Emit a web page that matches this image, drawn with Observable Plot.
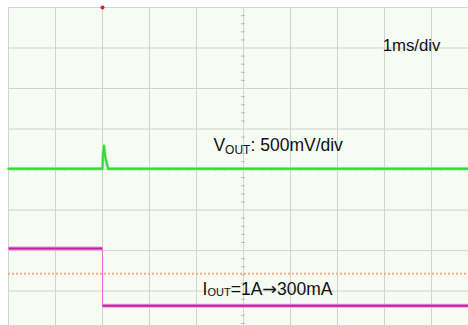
<!DOCTYPE html>
<html>
<head>
<meta charset="utf-8">
<script src="https://cdn.jsdelivr.net/npm/d3@7"></script>
<script src="https://cdn.jsdelivr.net/npm/@observablehq/plot@0.6"></script>
<style>
  html, body { margin: 0; padding: 0; background: #fff; overflow: hidden; }
  svg { display: block; }
</style>
</head>
<body>
<div id="chart"></div>
<script>
// ---- data (time in ms, 1 ms/div; amplitude in screen divisions, 0 = centre) ----
const gridT = [-2, -1, 0, 1, 2, 3, 4, 5, 6, 7, 8];
const gridV = [-3, -2, -1, 0, 1, 2, 3, 4];
const vOutTime  = [-2, 0, 0.01, 0.03, 0.06, 0.12, 7.8];
const vOutLevel = [0.02, 0.02, 0.35, 0.59, 0.3, 0.02, 0.02];
const iOutTime  = [-2, 0, 0, 7.8];
const iOutLevel = [-1.95, -1.95, -3.36, -3.36];
const refLevel  = [-2.57];
const triggerT  = [0];
const labelMain = ["1ms/div", "V", "I"];
const labelSub  = ["", "OUT", "OUT"];
const labelRest = ["", ": 500mV/div", "=1A\u2192300mA"];
const labelT    = [5.96, 2.36, 2.13];
const labelV    = [3.05, 0.60, -2.96];

const centreT = 3, centreV = 0;
const minorT = d3.range(-2, 8, 0.2).filter(t => Math.abs(t - Math.round(t)) > 0.01);
const minorV = d3.range(-4, 4, 0.2).filter(v => Math.abs(v - Math.round(v)) > 0.01);

const vOut = vOutTime.map((t, i) => ({t, v: vOutLevel[i]}));
const iSeg = d3.pairs(iOutTime.map((t, i) => ({t, v: iOutLevel[i]})))
  .map(([a, b]) => ({t1: a.t, v1: a.v, t2: b.t, v2: b.v, edge: a.t === b.t}));
const labels = labelMain.map((m, i) => ({m, s: labelSub[i], r: labelRest[i], t: labelT[i], v: labelV[i]}));

const chart = Plot.plot({
  width: 468,
  height: 325,
  marginLeft: 8, marginTop: 7, marginRight: 0, marginBottom: 0,
  x: {domain: [-2, 7.787], axis: null},
  y: {domain: [-3.85, 4], axis: null},
  style: {background: "#ffffff", fontFamily: "'Liberation Sans', Arial, sans-serif"},
  marks: [
    Plot.frame({fill: "#f6fbf4", stroke: null}),
    Plot.ruleX(gridT, {stroke: "#cfd4cf", strokeOpacity: 1}),
    Plot.ruleY(gridV, {stroke: "#cfd4cf", strokeOpacity: 1}),
    Plot.ruleX(minorT, {x: d => d, y1: centreV - 0.05, y2: centreV + 0.05, stroke: "#c0c4c0"}),
    Plot.ruleY(minorV, {y: d => d, x1: centreT - 0.04, x2: centreT + 0.04, stroke: "#b8bcb8"}),
    Plot.ruleY(refLevel, {stroke: "#f3ad90", strokeWidth: 2, strokeDasharray: "2,2"}),
    Plot.line(vOut, {x: "t", y: "v", stroke: "#a8eaa8", strokeWidth: 3.5, curve: "linear"}),
    Plot.line(vOut, {x: "t", y: "v", stroke: "#33d633", strokeWidth: 1.8, curve: "linear"}),
    Plot.link(iSeg.filter(d => !d.edge), {x1: "t1", y1: "v1", x2: "t2", y2: "v2",
      stroke: "#ec9ade", strokeWidth: 4}),
    Plot.link(iSeg, {x1: "t1", y1: "v1", x2: "t2", y2: "v2",
      stroke: d => d.edge ? "#e070d0" : "#c4209e", strokeWidth: d => d.edge ? 1 : 2}),
    Plot.dot(triggerT, {x: d => d, y: () => 4, r: 2, fill: "#e02020", stroke: null}),
    Plot.text(labels, {x: "t", y: "v", text: "m", textAnchor: "start", lineAnchor: "middle",
      fontSize: d => d.s ? 17.5 : 16.8, fill: "#111"})
  ]
});
document.getElementById("chart").append(chart);

// turn the "OUT" parts into subscripts, and draw the arrow with a wider glyph
const subShift = [0, 3.3, 0.8];
const subSize = [0, 12, 11];
const ns = "http://www.w3.org/2000/svg";
function tspan(text, attrs) {
  const el = document.createElementNS(ns, "tspan");
  for (const k in attrs) el.setAttribute(k, attrs[k]);
  el.textContent = text;
  return el;
}
Array.from(chart.querySelectorAll("text")).forEach(node => {
  const i = labelMain.indexOf(node.textContent);
  if (i < 0 || !labelSub[i]) return;
  while (node.firstChild) node.removeChild(node.firstChild);
  node.append(tspan(labelMain[i], {}));
  node.append(tspan(labelSub[i], {"font-size": subSize[i], dy: subShift[i]}));
  const parts = labelRest[i].split("\u2192");
  node.append(tspan(parts[0], {dy: -subShift[i]}));
  if (parts.length > 1) {
    node.append(tspan("\u2192", {"font-family": "'DejaVu Sans', sans-serif"}));
    node.append(tspan(parts[1], {}));
  }
});
</script>
</body>
</html>
